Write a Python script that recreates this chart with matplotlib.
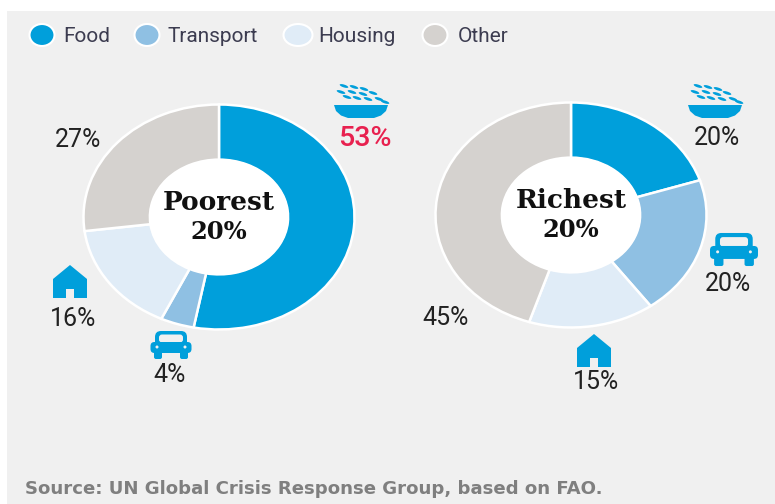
import numpy as np
import matplotlib
matplotlib.use('Agg')
import matplotlib.pyplot as plt
from matplotlib.patches import Ellipse, Polygon, Rectangle, FancyBboxPatch

categories = ['Food', 'Transport', 'Housing', 'Other']
poorest = [53, 4, 16, 27]
richest = [20, 20, 15, 45]
colors = ['#009fdb', '#8fc0e3', '#e0ecf7', '#d5d2cf']
BLUE = colors[0]
BG = '#f0f0f0'
W, H = 775, 504

fig = plt.figure(figsize=(W / 100, H / 100), dpi=100, facecolor='white')

# fondo
bg = fig.add_axes([0, 0, 1, 1], zorder=0)
bg.set_xlim(0, W)
bg.set_ylim(H, 0)
bg.axis('off')
bg.add_patch(Rectangle((7, 11), W - 7, H - 11, fc=BG, ec='none'))

# capa en pixeles para textos e iconos
ov = fig.add_axes([0, 0, 1, 1], zorder=2)
ov.set_xlim(0, W)
ov.set_ylim(H, 0)
ov.axis('off')


def donut(values, cx, cy, rx, ry, title):
    ax = fig.add_axes([(cx - rx) / W, 1 - (cy + ry) / H, 2 * rx / W, 2 * ry / H], zorder=1)
    ax.pie(values, colors=colors, startangle=90, counterclock=False, radius=1.0,
           wedgeprops=dict(width=0.49, edgecolor='white', linewidth=1.8))
    ax.set_xlim(-1, 1)
    ax.set_ylim(-1, 1)
    ax.set_aspect('auto')
    ov.add_patch(Ellipse((cx, cy), 2 * rx * 0.515, 2 * ry * 0.515, fc='white', ec='none'))
    ov.text(cx, cy - 14, title, ha='center', va='center', fontsize=19,
            family='DejaVu Serif', weight='bold', color='#111111')
    ov.text(cx, cy + 15, '20%', ha='center', va='center', fontsize=17.5,
            family='DejaVu Serif', weight='bold', color='#111111')


def bowl(cx, top):
    # cuenco de fondo plano
    ov.add_patch(Polygon([(cx - 27, top), (cx + 27, top), (cx + 25, top + 6), (cx + 20, top + 10.5),
                          (cx + 13, top + 13), (cx - 13, top + 13), (cx - 20, top + 10.5),
                          (cx - 25, top + 6)], fc=BLUE, ec='none'))
    for dx, dy in [(-17, -19), (-7, -18), (3, -16), (-20, -13), (-9, -13), (2, -11), (12, -12),
                   (-14, -8), (-4, -7), (7, -6), (18, -6), (24, -3)]:
        ov.add_patch(Ellipse((cx + dx, top + dy), 9, 2.8, angle=18, fc=BLUE, ec='none'))


def house(cx, top):
    ov.add_patch(Polygon([(cx, top), (cx + 17, top + 14), (cx + 17, top + 33), (cx + 4, top + 33),
                          (cx + 4, top + 24), (cx - 4, top + 24), (cx - 4, top + 33),
                          (cx - 17, top + 33), (cx - 17, top + 14)], fc=BLUE, ec='none'))


def car(cx, cy, sx, sy):
    # techo, ventana, cuerpo, ruedas y faros
    def box(x, y, w, h, r, col):
        ov.add_patch(FancyBboxPatch((cx + x * sx, cy + y * sy), w * sx, h * sy,
                                    boxstyle=f'round,pad=0,rounding_size={r}', fc=col, ec='none'))
    box(-16, -14, 32, 18, 6, BLUE)
    box(-12, -10.5, 24, 8, 3, BG)
    box(-20.5, -3, 41, 11, 4, BLUE)
    box(-17, 6, 8, 8, 2, BLUE)
    box(9, 6, 8, 8, 2, BLUE)
    ov.add_patch(Ellipse((cx - 14 * sx, cy + 2 * sy), 3, 3, fc=BG, ec='none'))
    ov.add_patch(Ellipse((cx + 14 * sx, cy + 2 * sy), 3, 3, fc=BG, ec='none'))


donut(poorest, 219, 217, 135.5, 112.5, 'Poorest')
donut(richest, 571, 215, 135.5, 112.5, 'Richest')

# leyenda
legend_x = [42, 147, 298, 435]
legend_text_x = [63, 167, 318, 458]
legend_w = [25, 25, 29, 25]
for c, col, lx, tx, lw in zip(categories, colors, legend_x, legend_text_x, legend_w):
    ov.add_patch(Ellipse((lx, 35), lw, 22, fc=col, ec='white', lw=1.5))
    ov.text(tx, 37, c, ha='left', va='center', fontsize=15, family='Roboto', color='#3c3c50')

# etiquetas
label_font = dict(ha='center', va='center', fontsize=18, family='Roboto', color='#222222')
ov.text(78, 140, f'{poorest[3]}%', **label_font)
ov.text(73, 319, f'{poorest[2]}%', **label_font)
ov.text(170, 375, f'{poorest[1]}%', **label_font)
ov.text(365, 138, f'{poorest[0]}%', ha='center', va='center', fontsize=20.5, family='Roboto',
        weight='medium', color='#e8214f')
ov.text(717, 138, f'{richest[0]}%', **label_font)
ov.text(728, 284, f'{richest[1]}%', **label_font)
ov.text(596, 382, f'{richest[2]}%', **label_font)
ov.text(446, 318, f'{richest[3]}%', **label_font)

# iconos
bowl(361, 105)
bowl(715, 105)
house(70, 265)
house(594, 334)
car(171, 345, 1.0, 1.0)
car(734, 249.5, 1.17, 1.18)

ov.text(25, 489, 'Source: UN Global Crisis Response Group, based on FAO.', ha='left', va='center',
        fontsize=13.1, family='DejaVu Sans', weight='bold', color='#7f7f7f')

fig.savefig('out.png', dpi=100, facecolor='white')
